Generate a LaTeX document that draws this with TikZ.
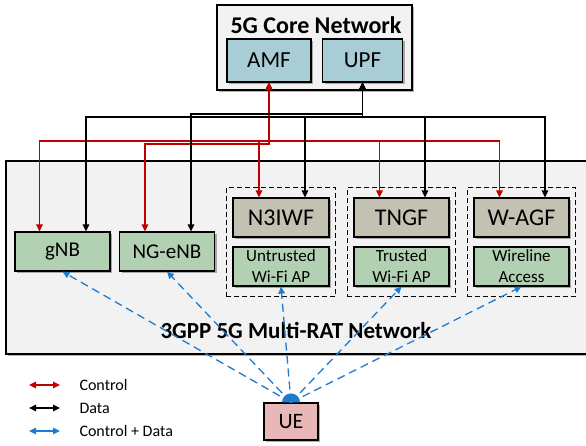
\documentclass[tikz,border=0pt]{standalone}
\usepackage{fontspec}
\setmainfont{Carlito}
\usetikzlibrary{positioning, fit, arrows.meta, shadows}
\definecolor{ctrlred}{HTML}{C00000}
\definecolor{cdblue}{HTML}{1F7BD0}
\definecolor{nfblue}{HTML}{A9CDD5}
\definecolor{rangreen}{HTML}{B2D0B2}
\definecolor{iwfgray}{HTML}{C3C1B2}
\definecolor{uepink}{HTML}{E8B8B8}
\definecolor{panelgray}{HTML}{F2F2F2}

\begin{document}
\begin{tikzpicture}[x=1pt, y=-1pt,
    shadebox/.style = {draw, line width=1.2pt, inner sep=0pt,
      drop shadow={shadow xshift=2pt, shadow yshift=-2pt, opacity=0.3, fill=black}},
    panel/.style = {shadebox, fill=panelgray},
    nfbox/.style = {shadebox, fill=nfblue, minimum width=84pt, minimum height=43pt,
      font=\fontsize{23}{25}\selectfont},
    ranbox/.style = {shadebox, fill=rangreen, minimum width=95pt, minimum height=39pt,
      font=\fontsize{21}{23}\selectfont},
    iwfbox/.style = {shadebox, fill=iwfgray, minimum width=96pt, minimum height=39pt,
      font=\fontsize{24}{26}\selectfont},
    apbox/.style = {shadebox, fill=rangreen, minimum width=96pt, minimum height=39pt,
      align=center, font=\fontsize{17}{21}\selectfont},
    grpbox/.style = {draw, line width=1.2pt, dash pattern=on 5pt off 3pt,
      inner xsep=6pt, inner ysep=10pt},
    ctrl/.style = {draw=ctrlred, line width=1.3pt, {Triangle[length=7pt, width=6.5pt]}-{Triangle[length=7pt, width=6.5pt]}},
    data/.style = {draw=black, line width=1.3pt, {Triangle[length=7pt, width=6.5pt]}-{Triangle[length=7pt, width=6.5pt]}},
    cdata/.style = {draw=cdblue, line width=1.3pt, dash pattern=on 8pt off 5pt, -{Triangle[length=7pt, width=6.5pt]}},
    legtext/.style = {anchor=west, font=\fontsize{16}{18}\selectfont},
  ]
\useasboundingbox (0,0) rectangle (586,446);

% panels
\node[panel, minimum width=195pt, minimum height=85pt] (core) at (314.5,47.5) {};
\node[font=\bfseries\fontsize{24}{26}\selectfont] (coretitle) at (316,25) {5G Core Network};
\node[panel, minimum width=588pt, minimum height=193pt] (net) at (300,257.5) {};
\node[font=\bfseries\fontsize{23}{25}\selectfont] (nettitle) at (296,330) {3GPP 5G Multi-RAT Network};

% core functions
\node[nfbox] (AMF) at (269,60.5) {AMF};
\node[nfbox, minimum width=80pt] (UPF) at (362.5,60.5) {UPF};

% access nodes
\node[ranbox] (gNB) at (62.5,251.5) {gNB};
\node[ranbox] (NGeNB) at (167,251.5) {NG-eNB};
\node[iwfbox] (N3IWF) at (281,217.5) {N3IWF};
\node[apbox] (untrusted) at (281,266.5) {Untrusted\\Wi-Fi AP};
\node[iwfbox, minimum width=95pt] (TNGF) at (401.5,217.5) {TNGF};
\node[apbox, minimum width=95pt] (trusted) at (401.5,266.5) {Trusted\\Wi-Fi AP};
\node[iwfbox, minimum width=95pt] (WAGF) at (521.5,217.5) {W-AGF};
\node[apbox, minimum width=95pt] (wireline) at (521.5,266.5) {Wireline\\Access};

\node[grpbox, fit=(N3IWF) (untrusted)] (grp1) {};
\node[grpbox, fit=(TNGF) (trusted)] (grp2) {};
\node[grpbox, fit=(WAGF) (wireline)] (grp3) {};

% UE
\node[shadebox, fill=uepink, minimum width=54pt, minimum height=37pt,
      font=\fontsize{22}{24}\selectfont] (UE) at (291,421.5) {UE};
\fill[cdblue] ([xshift=-9pt]UE.north) arc[start angle=180, end angle=0, radius=9pt];

% control plane
\coordinate (cbus) at (AMF.south |- 0,141);
\coordinate (cbusb) at (AMF.south |- 0,144);
\draw[ctrl] ([xshift=-23pt]gNB.north) |- (cbus) -- (AMF.south);
\draw[ctrl] ([xshift=-22pt]NGeNB.north) |- (cbusb) -- (AMF.south);
\draw[ctrl] ([xshift=-22pt]N3IWF.north) |- (cbus) -- (AMF.south);
\draw[ctrl] ([xshift=-22pt]TNGF.north) |- (cbus) -- (AMF.south);
\draw[ctrl] ([xshift=-22pt]WAGF.north) |- (cbus) -- (AMF.south);

% user plane
\coordinate (dbus) at (UPF.south |- 0,117);
\coordinate (dbusb) at (UPF.south |- 0,114);
\draw[data] ([xshift=23.5pt]gNB.north) |- (dbus) -- (UPF.south);
\draw[data] ([xshift=24pt]NGeNB.north) |- (dbusb) -- (UPF.south);
\draw[data] ([xshift=24pt]N3IWF.north) |- (dbus) -- (UPF.south);
\draw[data] ([xshift=23.5pt]TNGF.north) |- (dbus) -- (UPF.south);
\draw[data] ([xshift=23.5pt]WAGF.north) |- (dbus) -- (UPF.south);

% radio links
\foreach \n in {gNB, NGeNB, untrusted, trusted, wireline}
  \draw[cdata] (UE.north) -- (\n.south);

% legend
\foreach \y/\t [count=\i] in {385/Control, 408/Data, 431/Control + Data} {
  \coordinate (la\i) at (29,\y);
  \coordinate (lb\i) at (60,\y);
  \node[legtext] (lt\i) at (76,\y) {\t};
}
\draw[ctrl] (la1) -- (lb1);
\draw[data] (la2) -- (lb2);
\draw[draw=cdblue, line width=1.3pt, {Triangle[length=7pt, width=6.5pt]}-{Triangle[length=7pt, width=6.5pt]}] (la3) -- (lb3);
\end{tikzpicture}
\end{document}
